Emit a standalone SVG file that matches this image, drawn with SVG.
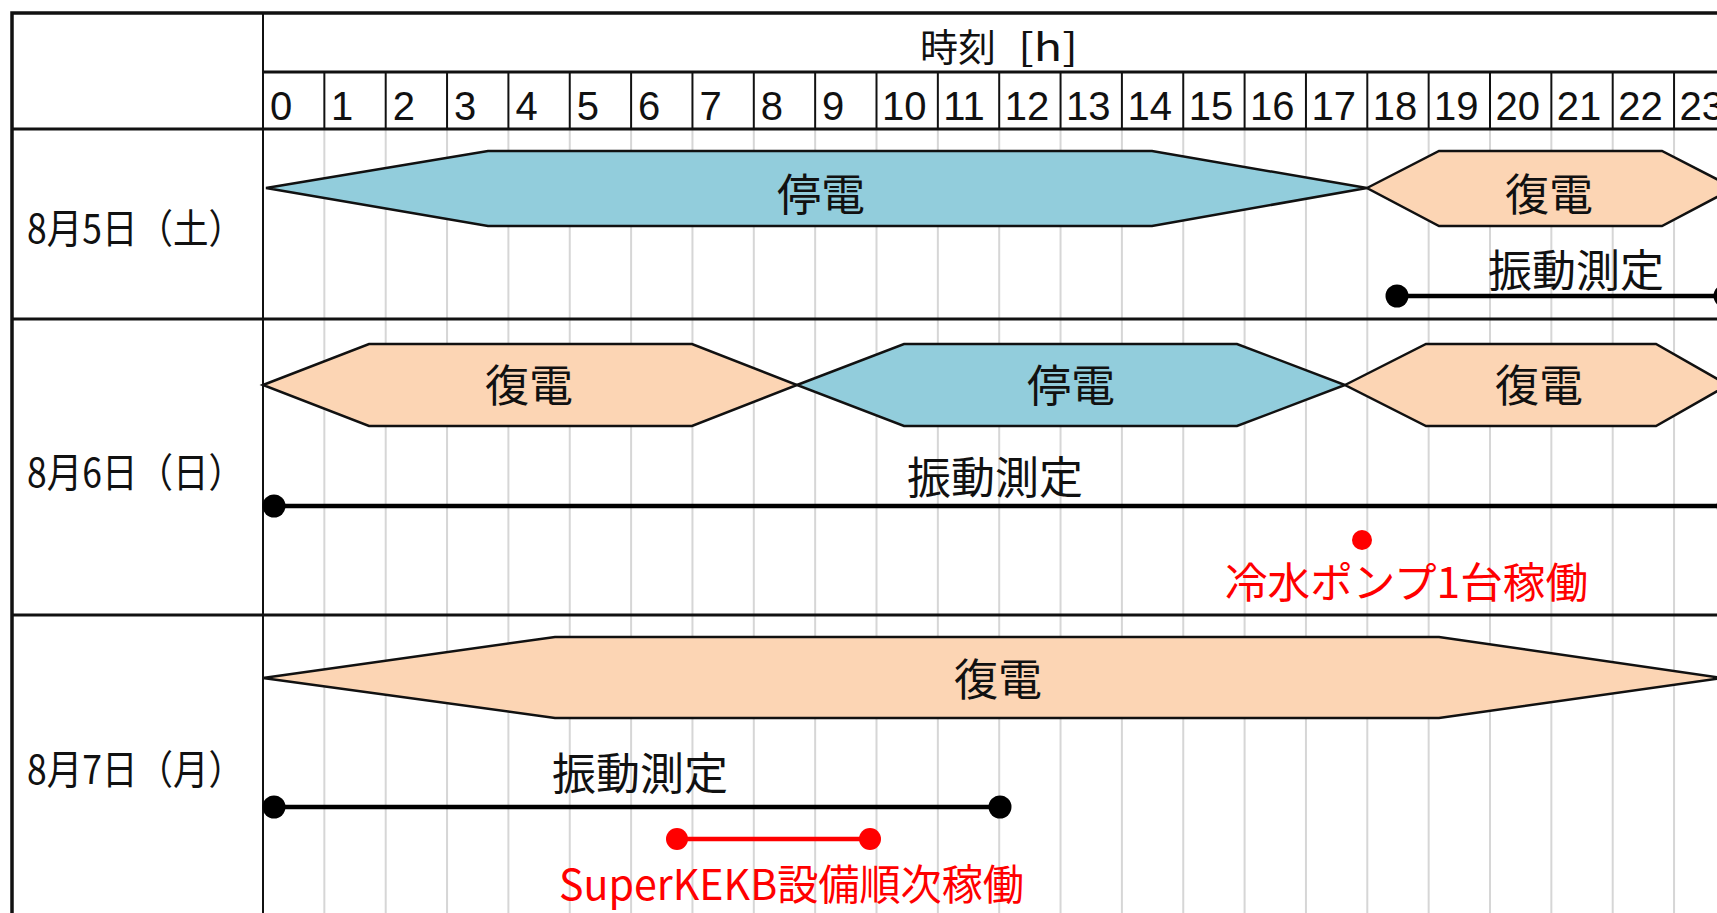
<svg xmlns="http://www.w3.org/2000/svg" width="1717" height="913" viewBox="0 0 1717 913">
<style>
.jp{font-family:"Noto Sans CJK JP","Noto Sans",sans-serif;fill:#111}
.red{fill:#ff0000}
.hr{font-family:"Liberation Sans",Arial,sans-serif;font-size:40px;fill:#111}
.lbl{font-size:44px;text-anchor:middle}
.date{font-size:40px}
.blue{fill:#92cddc;stroke:#111;stroke-width:2.5;stroke-linejoin:miter}
.orange{fill:#fcd5b4;stroke:#111;stroke-width:2.5;stroke-linejoin:miter}
.grid{stroke:#d6d6d6;stroke-width:2}
.hline{stroke:#111;stroke-width:2}
.sep{stroke:#111;stroke-width:3}
.bar{stroke:#000;stroke-width:4.5;fill:none}
.rbar{stroke:#ff0000;stroke-width:4.5;fill:none}
</style>
<rect x="0" y="0" width="1717" height="913" fill="#fff"/>
<g id="grid">
<g class="grid">
<line x1="324.35" y1="129" x2="324.35" y2="913"/><line x1="385.7" y1="129" x2="385.7" y2="913"/><line x1="447.05" y1="129" x2="447.05" y2="913"/><line x1="508.4" y1="129" x2="508.4" y2="913"/><line x1="569.75" y1="129" x2="569.75" y2="913"/><line x1="631.1" y1="129" x2="631.1" y2="913"/><line x1="692.45" y1="129" x2="692.45" y2="913"/><line x1="753.8" y1="129" x2="753.8" y2="913"/><line x1="815.15" y1="129" x2="815.15" y2="913"/><line x1="876.5" y1="129" x2="876.5" y2="913"/><line x1="937.85" y1="129" x2="937.85" y2="913"/><line x1="999.2" y1="129" x2="999.2" y2="913"/><line x1="1060.55" y1="129" x2="1060.55" y2="913"/><line x1="1121.9" y1="129" x2="1121.9" y2="913"/><line x1="1183.25" y1="129" x2="1183.25" y2="913"/><line x1="1244.6" y1="129" x2="1244.6" y2="913"/><line x1="1305.95" y1="129" x2="1305.95" y2="913"/><line x1="1367.3" y1="129" x2="1367.3" y2="913"/><line x1="1428.65" y1="129" x2="1428.65" y2="913"/><line x1="1490" y1="129" x2="1490" y2="913"/><line x1="1551.35" y1="129" x2="1551.35" y2="913"/><line x1="1612.7" y1="129" x2="1612.7" y2="913"/><line x1="1674.05" y1="129" x2="1674.05" y2="913"/>
</g>
<g class="hline">
<line x1="324.35" y1="72" x2="324.35" y2="129"/><line x1="385.7" y1="72" x2="385.7" y2="129"/><line x1="447.05" y1="72" x2="447.05" y2="129"/><line x1="508.4" y1="72" x2="508.4" y2="129"/><line x1="569.75" y1="72" x2="569.75" y2="129"/><line x1="631.1" y1="72" x2="631.1" y2="129"/><line x1="692.45" y1="72" x2="692.45" y2="129"/><line x1="753.8" y1="72" x2="753.8" y2="129"/><line x1="815.15" y1="72" x2="815.15" y2="129"/><line x1="876.5" y1="72" x2="876.5" y2="129"/><line x1="937.85" y1="72" x2="937.85" y2="129"/><line x1="999.2" y1="72" x2="999.2" y2="129"/><line x1="1060.55" y1="72" x2="1060.55" y2="129"/><line x1="1121.9" y1="72" x2="1121.9" y2="129"/><line x1="1183.25" y1="72" x2="1183.25" y2="129"/><line x1="1244.6" y1="72" x2="1244.6" y2="129"/><line x1="1305.95" y1="72" x2="1305.95" y2="129"/><line x1="1367.3" y1="72" x2="1367.3" y2="129"/><line x1="1428.65" y1="72" x2="1428.65" y2="129"/><line x1="1490" y1="72" x2="1490" y2="129"/><line x1="1551.35" y1="72" x2="1551.35" y2="129"/><line x1="1612.7" y1="72" x2="1612.7" y2="129"/><line x1="1674.05" y1="72" x2="1674.05" y2="129"/>
</g>
<g class="sep">
<line x1="263" y1="72" x2="1717" y2="72"/>
<line x1="12" y1="129" x2="1717" y2="129"/>
<line x1="12" y1="319" x2="1717" y2="319"/>
<line x1="12" y1="615" x2="1717" y2="615"/>
</g>
<line x1="263" y1="13" x2="263" y2="913" stroke="#111" stroke-width="2"/>
<rect x="12" y="13" width="1800" height="1000" fill="none" stroke="#111" stroke-width="3.5"/>
</g>
<g id="header">
<text class="jp" x="920" y="61" font-size="38"><tspan textLength="76" lengthAdjust="spacingAndGlyphs">時刻</tspan> <tspan x="1018" textLength="60" lengthAdjust="spacingAndGlyphs">[h]</tspan></text>
<g class="hr">
<text x="270" y="120">0</text><text x="331" y="120">1</text><text x="392.7" y="120">2</text><text x="454" y="120">3</text><text x="515.4" y="120">4</text><text x="576.7" y="120">5</text><text x="638.1" y="120">6</text><text x="699.4" y="120">7</text><text x="760.8" y="120">8</text><text x="822.1" y="120">9</text><text x="882" y="120">10</text><text x="943.3" y="120">11</text><text x="1004.7" y="120">12</text><text x="1066" y="120">13</text><text x="1127.4" y="120">14</text><text x="1188.7" y="120">15</text><text x="1250.1" y="120">16</text><text x="1311.4" y="120">17</text><text x="1372.8" y="120">18</text><text x="1434.1" y="120">19</text><text x="1495.5" y="120">20</text><text x="1556.8" y="120">21</text><text x="1618.2" y="120">22</text><text x="1679.5" y="120">23</text>
</g>
</g>
<g id="date-aug5"><text class="jp date" x="27" y="243" textLength="217" lengthAdjust="spacingAndGlyphs">8月5日（土）</text></g>
<g id="date-aug6"><text class="jp date" x="27" y="487" textLength="217" lengthAdjust="spacingAndGlyphs">8月6日（日）</text></g>
<g id="date-aug7"><text class="jp date" x="27" y="784" textLength="217" lengthAdjust="spacingAndGlyphs">8月7日（月）</text></g>

<g id="aug5-outage">
<polygon class="blue" points="266,188 488,151 1152,151 1367,188 1152,226 488,226"/>
<text class="jp lbl" x="821" y="211">停電</text>
</g>
<g id="aug5-restore">
<polygon class="orange" points="1367,188 1439,151 1662,151 1734,188 1662,226 1439,226"/>
<text class="jp lbl" x="1549" y="211">復電</text>
</g>
<g id="aug5-vibration"><text class="jp lbl" x="1576" y="287">振動測定</text></g>

<g id="aug6-restore1">
<polygon class="orange" points="263,385 369,344 692,344 797,385 692,426 369,426"/>
<text class="jp lbl" x="529" y="402">復電</text>
</g>
<g id="aug6-outage">
<polygon class="blue" points="797,385 904,344 1237,344 1345,385 1237,426 904,426"/>
<text class="jp lbl" x="1071" y="402">停電</text>
</g>
<g id="aug6-restore2">
<polygon class="orange" points="1345,385 1426,344 1656,344 1728,385 1656,426 1426,426"/>
<text class="jp lbl" x="1539" y="402">復電</text>
</g>
<g id="aug6-vibration"><text class="jp lbl" x="995" y="494">振動測定</text></g>
<g id="aug6-pump">
<circle cx="1362" cy="540" r="10" fill="#ff0000"/>
<text class="jp red" x="1225" y="598" font-size="42" textLength="363" lengthAdjust="spacingAndGlyphs">冷水ポンプ1台稼働</text>
</g>

<g id="aug7-restore">
<polygon class="orange" points="263,678 555,637 1439,637 1722,678 1439,718 555,718"/>
<text class="jp lbl" x="998" y="696">復電</text>
</g>
<g id="aug7-vibration"><text class="jp lbl" x="640" y="790">振動測定</text></g>
<g id="aug7-superkekb">
<text class="jp red" x="559" y="900" font-size="42" textLength="465" lengthAdjust="spacingAndGlyphs">SuperKEKB設備順次稼働</text>
</g>

<g id="connectors">
<line class="bar" x1="1397" y1="296" x2="1725" y2="296"/>
<circle cx="1397" cy="296" r="11.5" fill="#000"/>
<circle cx="1725" cy="296" r="11.5" fill="#000"/>
<line class="bar" x1="274" y1="506" x2="1728" y2="506"/>
<circle cx="274" cy="506" r="11.5" fill="#000"/>
<circle cx="1728" cy="506" r="11.5" fill="#000"/>
<line class="bar" x1="274" y1="807" x2="1000" y2="807"/>
<circle cx="274" cy="807" r="11.5" fill="#000"/>
<circle cx="1000" cy="807" r="11.5" fill="#000"/>
<line class="rbar" x1="677" y1="839" x2="870" y2="839"/>
<circle cx="677" cy="839" r="11" fill="#ff0000"/>
<circle cx="870" cy="839" r="11" fill="#ff0000"/>
</g>
</svg>
